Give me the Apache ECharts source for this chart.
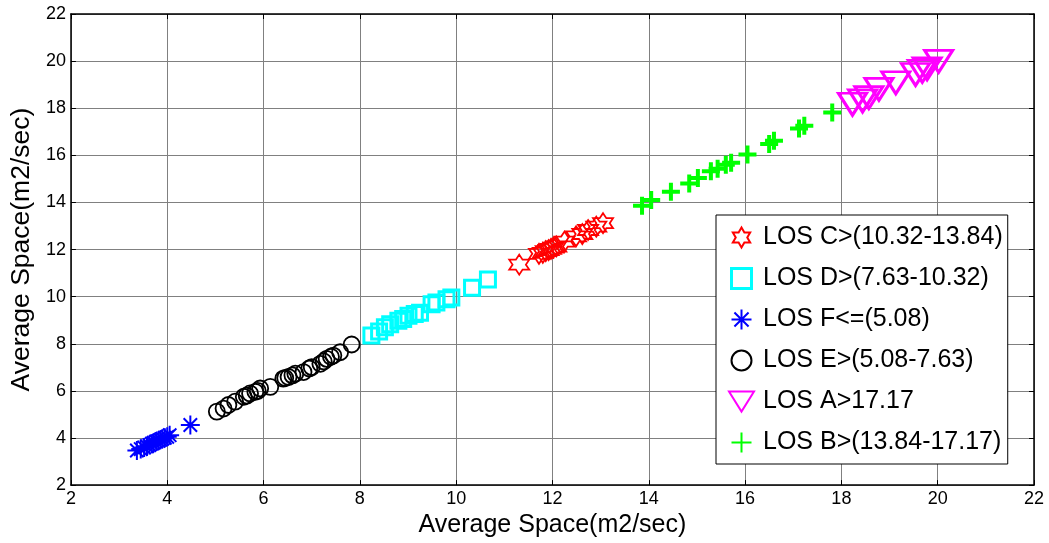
<!DOCTYPE html>
<html><head><meta charset="utf-8">
<script src="https://cdn.jsdelivr.net/npm/echarts@6/dist/echarts.min.js"></script>
<style>html,body{margin:0;padding:0;background:#fff}#c{width:1049px;height:543px}</style>
</head><body><div id="c"></div>
<script>
const losC_x = [11.31,11.72,11.80,11.86,11.92,11.97,12.02,12.08,12.25,12.49,12.62,12.74,12.91,13.05];
const losC_y = [11.36,11.82,11.86,11.93,11.98,12.03,12.08,12.13,12.34,12.56,12.66,12.83,12.97,13.12];
const losD_x = [8.24,8.40,8.52,8.63,8.80,8.90,9.01,9.14,9.25,9.49,9.59,9.80,9.90,10.33,10.66];
const losD_y = [8.35,8.52,8.70,8.83,8.98,9.05,9.19,9.26,9.32,9.68,9.75,9.89,9.96,10.38,10.73];
const losF_x = [3.37,3.45,3.52,3.58,3.63,3.68,3.72,3.77,3.82,3.86,3.90,3.95,4.00,4.05,4.48];
const losF_y = [3.47,3.53,3.60,3.65,3.70,3.76,3.80,3.85,3.88,3.93,3.97,4.01,4.05,4.12,4.55];
const losE_x = [5.03,5.17,5.27,5.41,5.59,5.65,5.72,5.83,5.88,5.93,6.14,6.41,6.45,6.52,6.60,6.66,6.83,6.95,7.00,7.18,7.25,7.31,7.40,7.45,7.59,7.83];
const losE_y = [5.12,5.25,5.40,5.54,5.75,5.80,5.89,5.96,6.00,6.10,6.17,6.52,6.55,6.59,6.66,6.73,6.80,6.95,7.01,7.15,7.25,7.36,7.45,7.50,7.64,7.97];
const losA_x = [18.23,18.44,18.57,18.78,19.13,19.54,19.68,19.78,20.02];
const losA_y = [18.17,18.31,18.45,18.80,19.08,19.43,19.57,19.67,19.99];
const losB_x = [13.86,14.05,14.46,14.84,15.02,15.29,15.43,15.60,15.71,16.05,16.50,16.60,17.12,17.23,17.81];
const losB_y = [13.86,14.10,14.45,14.80,15.04,15.32,15.43,15.60,15.68,16.03,16.48,16.62,17.14,17.26,17.82];
const xTicks = [2,4,6,8,10,12,14,16,18,20,22];
const yTicks = [2,4,6,8,10,12,14,16,18,20,22];
const seriesNames = ['LOS C>(10.32-13.84)','LOS D>(7.63-10.32)','LOS F<=(5.08)','LOS E>(5.08-7.63)','LOS A>17.17','LOS B>(13.84-17.17)'];

function zip(a,b){return a.map((v,i)=>[v,b[i]]);}
function hexagram(){
  let p=[];
  for(let i=0;i<12;i++){
    const r = i%2===0?1:0.5774;
    const ang = (-90 + i*30)*Math.PI/180;
    p.push((r*Math.cos(ang)).toFixed(4)+','+(r*Math.sin(ang)).toFixed(4));
  }
  return 'path://M'+p.join(' L')+' Z';
}
const starPath = hexagram();
const sqPath = 'path://M0,0 L1,0 L1,1 L0,1 Z';
const astPath = 'path://M0,-1 L0,1 M-1,0 L1,0 M-0.707,-0.707 L0.707,0.707 M-0.707,0.707 L0.707,-0.707';
const plusPath = 'path://M0,-1 L0,1 M-1,0 L1,0';
const triPath = 'path://M0,0 L2,0 L1,1.6 Z';
const font = 'Liberation Sans, Arial, sans-serif';
const T = 'rgba(0,0,0,0)';

function mk(name, data, symbol, size, color, bw){
  return {name:name, type:'scatter', data:data, symbol:symbol, symbolSize:size,
    symbolKeepAspect:false,
    itemStyle:{color:T, borderColor:color, borderWidth:bw, opacity:1},
    emphasis:{disabled:true}, z:3};
}
const chart = echarts.init(document.getElementById('c'));
const axisCommon = {min:2,max:22,interval:2};
chart.setOption({
  animation:false,
  backgroundColor:'#fff',
  grid:{left:66,right:15,top:14,bottom:56,containLabel:false},
  xAxis:[
    Object.assign({type:'value',position:'bottom',name:'Average Space(m2/sec)',nameLocation:'middle',nameGap:23,
      nameTextStyle:{fontFamily:font,fontSize:25,color:'#000'},
      axisLine:{show:true,onZero:false,lineStyle:{color:'#000',width:1.5}},
      axisTick:{show:true,inside:true,length:5,lineStyle:{color:'#000'}},
      axisLabel:{show:true,margin:5,fontFamily:font,fontSize:18,color:'#000',
        formatter:v=>xTicks.includes(v)?String(v):''},
      splitLine:{show:true,lineStyle:{color:'#808080',width:1}}},axisCommon),
    Object.assign({type:'value',position:'top',
      axisLine:{show:true,onZero:false,lineStyle:{color:'#000',width:1.5}},
      axisTick:{show:true,inside:true,length:5,lineStyle:{color:'#000'}},
      axisLabel:{show:false},splitLine:{show:false}},axisCommon)
  ],
  yAxis:[
    Object.assign({type:'value',position:'left',name:'Average Space(m2/sec)',nameLocation:'middle',nameGap:26,
      nameTextStyle:{fontFamily:font,fontSize:26.5,color:'#000'},
      axisLine:{show:true,onZero:false,lineStyle:{color:'#000',width:1.5}},
      axisTick:{show:true,inside:true,length:5,lineStyle:{color:'#000'}},
      axisLabel:{show:true,margin:5,fontFamily:font,fontSize:18,color:'#000',
        formatter:v=>yTicks.includes(v)?String(v):''},
      splitLine:{show:true,lineStyle:{color:'#808080',width:1}}},axisCommon),
    Object.assign({type:'value',position:'right',
      axisLine:{show:true,onZero:false,lineStyle:{color:'#000',width:1.5}},
      axisTick:{show:true,inside:true,length:5,lineStyle:{color:'#000'}},
      axisLabel:{show:false},splitLine:{show:false}},axisCommon)
  ],
  legend:{
    left:716, top:215, orient:'vertical',
    backgroundColor:'#fff', borderColor:'#000', borderWidth:1,
    padding:[10,5,9,12], itemGap:16, itemWidth:33, itemHeight:20,
    textStyle:{fontFamily:font,fontSize:25,color:'#000',lineHeight:25},
    data:[
      {name:seriesNames[0]},
      {name:seriesNames[1], itemStyle:{borderWidth:3}},
      {name:seriesNames[2]},
      {name:seriesNames[3], itemStyle:{borderWidth:2}},
      {name:seriesNames[4]},
      {name:seriesNames[5]}
    ]
  },
  series:[
    mk(seriesNames[0], zip(losC_x,losC_y), starPath, 20, '#ff0000', 1.8),
    mk(seriesNames[1], zip(losD_x,losD_y), sqPath, 15, '#00ffff', 3),
    mk(seriesNames[2], zip(losF_x,losF_y), astPath, 19, '#0000ff', 2),
    mk(seriesNames[3], zip(losE_x,losE_y), 'circle', 16, '#000000', 1.8),
    mk(seriesNames[4], zip(losA_x,losA_y), triPath, [28,22], '#ff00ff', 3),
    mk(seriesNames[5], zip(losB_x,losB_y), plusPath, 18, '#00ff00', 4)
  ]
});
</script></body></html>
